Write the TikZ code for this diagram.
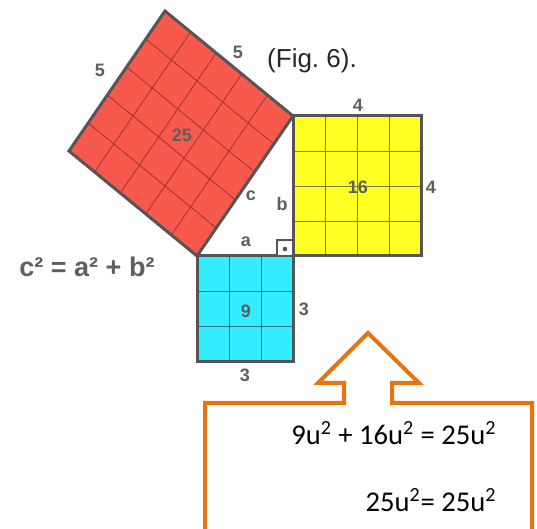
\documentclass[tikz,border=0pt]{standalone}
\usepackage{fontspec}
\setmainfont{Liberation Sans}
\newfontfamily\calfont{Carlito}
\usetikzlibrary{calc}
\definecolor{redsq}{HTML}{F75A4C}
\definecolor{redgrid}{HTML}{A8362C}
\definecolor{yelsq}{HTML}{FFFF24}
\definecolor{yelgrid}{HTML}{7E7A3C}
\definecolor{cyansq}{HTML}{33EEFF}
\definecolor{cyangrid}{HTML}{2A6A86}
\definecolor{edge}{HTML}{555555}
\definecolor{lbl}{HTML}{5E5E5E}
\definecolor{orng}{HTML}{E8740F}
\tikzset{
  sqedge/.style={draw=edge, line width=1.5pt, line join=miter},
  gridline/.style={line width=0.45pt},
  lab/.style={font=\bfseries\fontsize{9}{9}\selectfont, text=lbl, inner sep=0pt},
  boxtext/.style={font=\calfont\fontsize{14.3}{14.3}\selectfont, text=black, inner sep=0pt},
}
\begin{document}
\begin{tikzpicture}[x=0.5pt, y=-0.5pt]
\useasboundingbox (0,0) rectangle (537,529);
% triangle vertices
\coordinate (A) at (197,256);
\coordinate (C) at (293,256);
\coordinate (B) at (293,116);
\coordinate (T) at (165,11);
\coordinate (L) at (69,151);
% red square
\fill[redsq] (A) -- (B) -- (T) -- (L) -- cycle;
\foreach \i in {1,...,4}{
  \draw[redgrid, gridline] ($(A)!\i/5!(L)$) -- ($(B)!\i/5!(T)$);
  \draw[redgrid, gridline] ($(A)!\i/5!(B)$) -- ($(L)!\i/5!(T)$);
}
% yellow square
\coordinate (Y1) at (293,116);
\coordinate (Y2) at (421,256);
\fill[yelsq] (Y1) rectangle (Y2);
\foreach \i in {1,...,3}{
  \draw[yelgrid, gridline] (293+32*\i,116) -- (293+32*\i,256);
  \draw[yelgrid, gridline] (293,116+35*\i) -- (421,116+35*\i);
}
% cyan square
\coordinate (C1) at (197,256);
\coordinate (C2) at (293,362);
\fill[cyansq] (C1) rectangle (C2);
\foreach \i in {1,2}{
  \draw[cyangrid, gridline] (197+32*\i,256) -- (197+32*\i,362);
  \draw[cyangrid, gridline] (197,256+35.33*\i) -- (293,256+35.33*\i);
}
% borders
\draw[sqedge] (A) -- (B) -- (T) -- (L) -- cycle;
\draw[sqedge] (Y1) rectangle (Y2);
\draw[sqedge] (C1) rectangle (C2);
% right angle marker
\draw[edge, line width=1.2pt, fill=white] (277,240) rectangle (C);
\fill[edge] (285,249) circle (2.3);
% labels
\node[lab] (l5a) at (100,70) {5};
\node[lab] (l5b) at (238,52) {5};
\node[lab] (l25) at (182,135) {25};
\node[lab] (lc) at (251,196) {c};
\node[lab] (lb) at (282,204) {b};
\node[lab] (la) at (246,242) {a};
\node[lab] (l4a) at (358,105) {4};
\node[lab] (l16) at (358,187) {16};
\node[lab] (l4b) at (431,187) {4};
\node[lab] (l9) at (246,311) {9};
\node[lab] (l3a) at (304,309) {3};
\node[lab] (l3b) at (245,375) {3};
\node[inner sep=0pt, text=black!85, font=\fontsize{13}{13}\selectfont] (fig) at (312,61) {(Fig.\ 6).};
\node[inner sep=0pt, text=lbl, font=\bfseries\fontsize{13.5}{13.5}\selectfont] (eq) at (87,267) {c² = a² + b²};
% orange arrow box
\draw[orng, line width=2pt, line join=miter]
  (205,529) -- (205,403) -- (344,403) -- (344,383) -- (318,383) -- (368,333)
  -- (419,383) -- (392,383) -- (392,403) -- (532,403) -- (532,529);
\node[boxtext, anchor=east] (t1) at (497,433) {9u\textsuperscript{2} + 16u\textsuperscript{2} = 25u\textsuperscript{2}};
\node[boxtext, anchor=east] (t2) at (497,500) {25u\textsuperscript{2}= 25u\textsuperscript{2}};
\end{tikzpicture}
\end{document}
